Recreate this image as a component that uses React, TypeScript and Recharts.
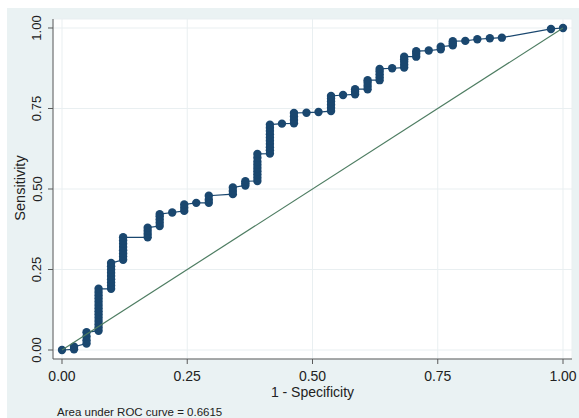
import React from 'react';
import { ScatterChart, Scatter, XAxis, YAxis, CartesianGrid } from 'recharts';

// 1 - specificity of each step of the ROC curve
const columnFpr = [
  0, 0.024, 0.049, 0.073, 0.098, 0.122, 0.171, 0.195, 0.22, 0.244, 0.268, 0.293, 0.341,
  0.366, 0.39, 0.415, 0.439, 0.463, 0.488, 0.512, 0.537, 0.561, 0.585, 0.61, 0.634,
  0.659, 0.683, 0.707, 0.732, 0.756, 0.78, 0.805, 0.829, 0.854, 0.878, 0.976, 1.0,
];

// sensitivity values at each of those x positions (bottom to top)
const columnSensitivity = [
  [0],
  [0.002, 0.01],
  [0.02, 0.03, 0.042, 0.055],
  [0.06, 0.07, 0.08, 0.09, 0.1, 0.11, 0.12, 0.13, 0.14, 0.15, 0.16, 0.17, 0.18, 0.19],
  [0.19, 0.2, 0.21, 0.22, 0.23, 0.24, 0.25, 0.26, 0.27],
  [0.28, 0.29, 0.3, 0.31, 0.32, 0.33, 0.34, 0.35],
  [0.35, 0.36, 0.37, 0.38],
  [0.385, 0.395, 0.405, 0.415, 0.422],
  [0.427],
  [0.432, 0.442, 0.452],
  [0.457],
  [0.457, 0.467, 0.479],
  [0.484, 0.494, 0.505],
  [0.511, 0.518, 0.524],
  [0.525, 0.535, 0.545, 0.555, 0.565, 0.575, 0.585, 0.597, 0.609],
  [0.61, 0.62, 0.63, 0.64, 0.65, 0.66, 0.67, 0.68, 0.69, 0.7],
  [0.703],
  [0.704, 0.714, 0.725, 0.736],
  [0.737],
  [0.739],
  [0.742, 0.752, 0.762, 0.772, 0.781, 0.789],
  [0.792],
  [0.794, 0.802, 0.81],
  [0.81, 0.82, 0.83, 0.838],
  [0.838, 0.847, 0.856, 0.865, 0.873],
  [0.875],
  [0.877, 0.886, 0.895, 0.903, 0.911],
  [0.911, 0.92, 0.928],
  [0.93],
  [0.934, 0.942],
  [0.946, 0.953, 0.959],
  [0.96],
  [0.965],
  [0.968],
  [0.97],
  [0.997],
  [1.0],
];

const diagonalX = [0, 1];
const diagonalY = [0, 1];
const tickValues = [0, 0.25, 0.5, 0.75, 1];
const areaUnderCurve = '0.6615';

const FONT = '"Liberation Sans", Arial, Helvetica, sans-serif';
const NAVY = '#1a476f';
const AXIS = '#5a5a5a';

const rocPoints = columnFpr.flatMap((x, i) => columnSensitivity[i].map((y) => ({ x, y })));
const diagonalPoints = diagonalX.map((x, i) => ({ x, y: diagonalY[i] }));

const XTick = (props: any) => (
  <text x={props.x} y={props.y + 14.5} textAnchor="middle" fontSize={14} fill="#222" fontFamily={FONT}>
    {Number(props.payload.value).toFixed(2)}
  </text>
);

const YTick = (props: any) => {
  const bx = props.x - 4.5;
  return (
    <text
      x={bx}
      y={props.y}
      transform={`rotate(-90, ${bx}, ${props.y})`}
      textAnchor="middle"
      fontSize={13}
      fill="#222"
      fontFamily={FONT}
    >
      {Number(props.payload.value).toFixed(2)}
    </text>
  );
};

const Dot = (props: any) => <circle cx={props.cx} cy={props.cy} r={4.2} fill={NAVY} />;
const NoDot = () => <g />;

export default function App() {
  return (
    <div style={{ position: 'absolute', left: 7, top: 8, width: 572, height: 410, background: '#eaf2f3' }}>
      <ScatterChart width={572} height={410} margin={{ top: 11, right: 7, bottom: 0, left: 0 }}>
        <CartesianGrid fill="#ffffff" stroke="#e9eff1" strokeWidth={1} />
        <XAxis
          type="number"
          dataKey="x"
          domain={[-0.01796, 1.01796]}
          ticks={tickValues}
          height={59}
          tickSize={5}
          axisLine={{ stroke: AXIS }}
          tickLine={{ stroke: AXIS }}
          tick={<XTick />}
          allowDataOverflow
        />
        <YAxis
          type="number"
          dataKey="y"
          domain={[-0.02795, 1.02795]}
          ticks={tickValues}
          width={46}
          tickSize={5}
          axisLine={{ stroke: AXIS }}
          tickLine={{ stroke: AXIS }}
          tick={<YTick />}
          allowDataOverflow
        />
        <Scatter
          data={rocPoints}
          line={{ stroke: NAVY, strokeWidth: 1.2 }}
          lineType="joint"
          shape={<Dot />}
          isAnimationActive={false}
        />
        <Scatter
          data={diagonalPoints}
          line={{ stroke: '#4e7d62', strokeWidth: 1.2 }}
          lineType="joint"
          shape={<NoDot />}
          isAnimationActive={false}
        />
      </ScatterChart>
      <svg
        width={572}
        height={410}
        style={{ position: 'absolute', left: 0, top: 0, pointerEvents: 'none' }}
      >
        <text x={17.5} y={180} transform="rotate(-90, 17.5, 180)" textAnchor="middle" fontSize={14.5} fill="#222" fontFamily={FONT}>
          Sensitivity
        </text>
        <text x={305.5} y={388.7} textAnchor="middle" fontSize={14} fill="#222" fontFamily={FONT}>
          1 - Specificity
        </text>
        <text x={50} y={407.5} fontSize={11.5} fill="#222" fontFamily={FONT}>
          Area under ROC curve = {areaUnderCurve}
        </text>
      </svg>
    </div>
  );
}
